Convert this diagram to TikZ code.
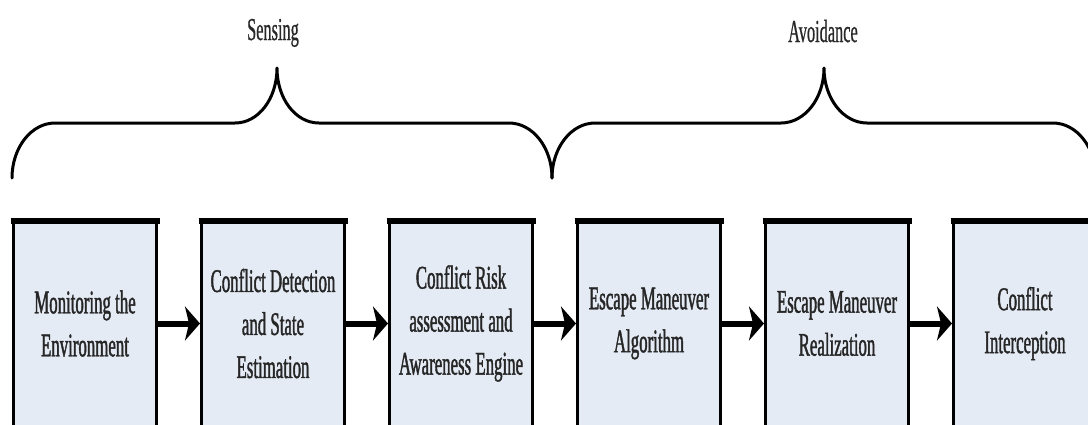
\documentclass[tikz,border=0pt]{standalone}
\usepackage{fontspec}
\newfontfamily\cfont[FakeStretch=0.51,FakeBold=1.2]{Liberation Serif}
\newfontfamily\hfont[FakeStretch=0.51,FakeBold=0.6]{Liberation Serif}
\usetikzlibrary{arrows.meta}
\definecolor{boxfill}{RGB}{229,235,245}
\definecolor{headgray}{RGB}{40,40,40}
\begin{document}
\begin{tikzpicture}[x=1pt,y=-1pt,
  procbox/.style={draw=black, line width=3pt, fill=boxfill, minimum width=143pt, minimum height=205pt, inner sep=0pt, align=center, text=black!85, font=\cfont\fontsize{33}{43}\selectfont},
  toprule/.style={line width=6pt, line cap=butt},
  flow/.style={line width=6pt, -{Stealth[length=15pt,width=34pt,inset=4pt]}},
  brace/.style={line width=3pt, line cap=round, line join=round},
  header/.style={font=\hfont\fontsize{32}{38}\selectfont, text=headgray, anchor=base, inner sep=0pt}]
\useasboundingbox (0,0) rectangle (1088,424);
\clip (0,0) rectangle (1088,424);
\fill[white] (0,0) rectangle (1088,424);

% boxes
\node[procbox] (b1) at (85,323.5)   {Monitoring the\\Environment};
\node[procbox] (b2) at (273,323.5)  {Conflict Detection\\and State\\Estimation};
\node[procbox] (b3) at (461,323.5)  {Conflict Risk\\assessment and\\Awareness Engine};
\node[procbox] (b4) at (649,323.5)  {Escape Maneuver\\Algorithm};
\node[procbox] (b5) at (837,323.5)  {Escape Maneuver\\Realization};
\node[procbox] (b6) at (1025,323.5) {Conflict\\Interception};

\foreach \b in {b1,b2,b3,b4,b5,b6}{
  \draw[toprule] ([xshift=-1.5pt,yshift=-1pt]\b.north west) -- ([xshift=1.5pt,yshift=-1pt]\b.north east);
}

% arrows
\draw[flow] (b1.east) -- (b2.west);
\draw[flow] (b2.east) -- (b3.west);
\draw[flow] (b3.east) -- (b4.west);
\draw[flow] (b4.east) -- (b5.west);
\draw[flow] (b5.east) -- (b6.west);

% braces
\draw[brace] (12,178) .. controls (12,147.6) and (31.3,123) .. (55,123)
  -- (235,123) .. controls (258.7,123) and (277,98.4) .. (277,68)
  .. controls (277,98.4) and (295.3,123) .. (319,123)
  -- (509,123) .. controls (532.7,123) and (552,147.6) .. (552,178);
\draw[brace] (552,178) .. controls (552,147.6) and (571.3,123) .. (595,123)
  -- (781,123) .. controls (804.7,123) and (824,98.4) .. (824,68)
  .. controls (824,98.4) and (843.3,123) .. (867,123)
  -- (1053,123) .. controls (1076.7,123) and (1096,147.6) .. (1096,178);

% headers
\node[header] (sens) at (273,40) {Sensing};
\node[header] (avoid) at (823,42) {Avoidance};
\end{tikzpicture}
\end{document}
